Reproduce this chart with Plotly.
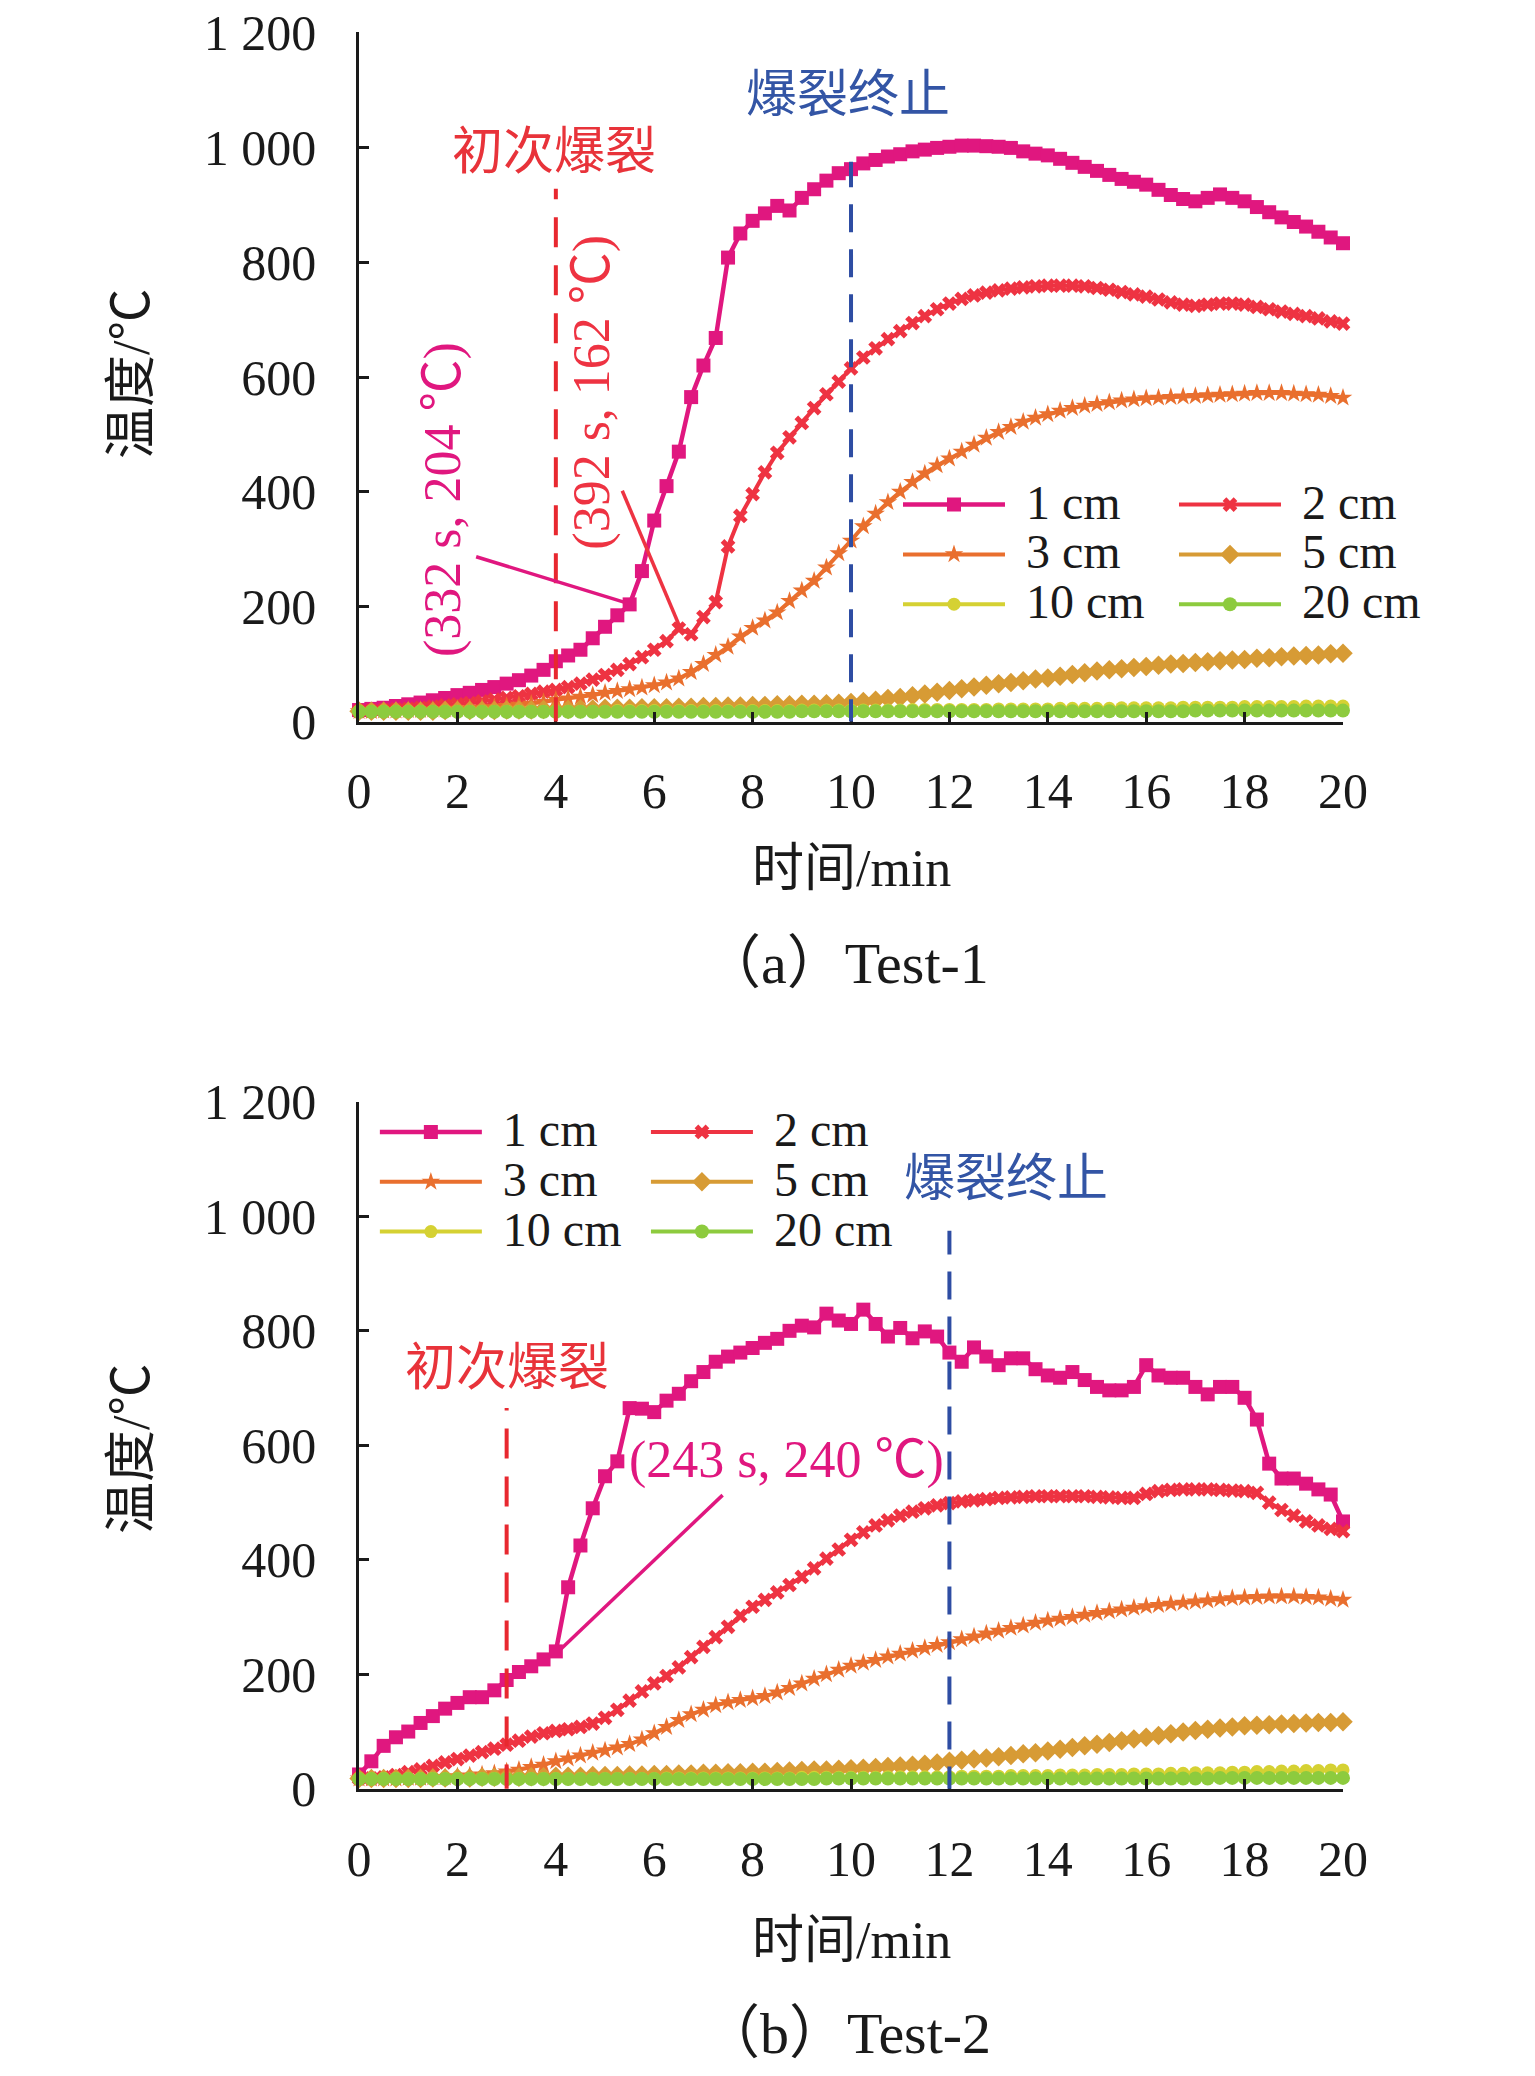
import plotly.graph_objects as go

# sampling grid: one reading every 15 s, in minutes
minutes = [i / 4 for i in range(81)]

series_names = ['1 cm', '2 cm', '3 cm', '5 cm', '10 cm', '20 cm']

# Test-1 temperatures (deg C)
a_1cm = [20, 22, 24, 27, 30, 33, 37, 41, 46, 50, 55, 60, 66, 72, 80, 90, 105,
         115, 125, 145, 165, 185, 204, 262, 350, 410, 470, 565, 620, 668, 808, 850, 872,
         885, 898, 890, 912, 927, 942, 955, 962, 972, 978, 984, 988, 993, 996, 999, 1001,
         1003, 1003, 1002, 1001, 999, 993, 989, 986, 980, 973, 966, 959, 952, 945, 940, 935,
         926, 917, 910, 906, 912, 918, 912, 906, 896, 887, 878, 870, 862, 853, 843, 833]
a_2cm = [18, 19, 20, 21, 22, 24, 26, 28, 30, 32, 35, 38, 41, 44, 48, 52, 55,
         60, 66, 73, 81, 90, 100, 112, 125, 140, 162, 152, 182, 208, 305, 358, 396,
         434, 468, 495, 520, 546, 570, 592, 615, 634, 650, 666, 680, 694, 706, 718, 728,
         736, 742, 747, 751, 754, 756, 758, 759, 759, 759, 758, 755, 752, 748, 744, 740,
         735, 730, 726, 724, 726, 728, 728, 726, 722, 718, 714, 710, 706, 702, 697, 693]
a_3cm = [18, 18, 19, 19, 20, 20, 21, 21, 22, 23, 24, 25, 27, 29, 31, 34, 38,
         40, 43, 46, 50, 53, 56, 59, 63, 68, 75, 86, 100, 116, 130, 148, 163,
         176, 190, 210, 228, 245, 268, 293, 315, 340, 362, 382, 400, 417, 432, 446, 458,
         470, 482, 494, 504, 513, 522, 529, 535, 541, 546, 550, 553, 556, 559, 561, 563,
         564, 565, 566, 567, 568, 569, 570, 571, 572, 572, 572, 571, 570, 569, 567, 564]
a_5cm = [18, 18, 18, 18, 18, 18, 18, 19, 19, 19, 19, 19, 20, 20, 20, 21, 21,
         21, 22, 22, 23, 23, 23, 24, 24, 24, 25, 25, 26, 26, 27, 27, 28,
         28, 29, 29, 30, 30, 31, 32, 33, 35, 37, 40, 42, 45, 48, 51, 54,
         57, 60, 63, 66, 68, 71, 74, 76, 79, 82, 85, 88, 90, 92, 94, 96,
         98, 100, 101, 103, 104, 106, 107, 108, 110, 111, 113, 114, 115, 116, 118, 119]
a_10cm = [18, 18, 18, 18, 18, 18, 18, 18, 18, 18, 18, 18, 18, 18, 18, 18, 18,
          18, 18, 18, 18, 19, 19, 19, 19, 19, 19, 19, 19, 19, 19, 19, 19,
          19, 19, 19, 20, 20, 20, 20, 20, 20, 20, 20, 20, 21, 21, 21, 21,
          21, 21, 21, 22, 22, 22, 22, 22, 23, 23, 23, 23, 23, 24, 24, 24,
          24, 24, 25, 25, 25, 25, 25, 26, 26, 26, 26, 26, 27, 27, 27, 27]
a_20cm = [17, 17, 17, 17, 17, 17, 17, 17, 17, 17, 17, 17, 17, 17, 17, 17, 17,
          17, 17, 17, 17, 17, 17, 17, 17, 17, 17, 17, 17, 17, 17, 17, 17,
          17, 17, 17, 18, 18, 18, 18, 18, 18, 18, 18, 18, 18, 18, 18, 18,
          18, 18, 18, 18, 18, 18, 18, 18, 18, 18, 18, 18, 18, 18, 18, 18,
          18, 18, 18, 19, 19, 19, 19, 19, 19, 19, 19, 19, 19, 19, 19, 19]

# Test-2 temperatures (deg C)
b_1cm = [25, 48, 75, 90, 100, 115, 127, 140, 150, 160, 160, 172, 190, 204, 214, 226, 240,
         352, 425, 490, 546, 572, 665, 664, 658, 678, 690, 712, 728, 746, 755, 762, 770,
         779, 786, 800, 809, 806, 830, 818, 812, 837, 812, 790, 805, 787, 799, 790, 762,
         746, 771, 755, 740, 752, 752, 733, 722, 718, 728, 714, 702, 696, 696, 702, 740,
         722, 718, 718, 702, 689, 702, 702, 683, 645, 568, 542, 542, 533, 523, 514, 467]
b_2cm = [18, 18, 20, 24, 29, 34, 40, 46, 52, 58, 64, 70, 77, 84, 91, 97, 101,
         104, 108, 114, 124, 138, 154, 170, 184, 197, 212, 230, 248, 265, 283, 302, 318,
         330, 343, 356, 370, 385, 402, 418, 435, 448, 460, 469, 477, 484, 490, 495, 499,
         502, 504, 506, 508, 509, 510, 511, 511, 511, 511, 511, 510, 509, 508, 508, 515,
         520, 522, 523, 523, 523, 522, 521, 520, 517, 500, 487, 477, 467, 460, 454, 450]
b_3cm = [18, 18, 18, 18, 19, 19, 20, 20, 22, 23, 25, 27, 30, 33, 38, 42, 48,
         53, 58, 63, 67, 72, 78, 86, 97, 108, 120, 130, 138, 146, 151, 155, 158,
         162, 168, 176, 184, 192, 200, 208, 215, 220, 225, 231, 236, 241, 246, 251, 256,
         261, 266, 271, 276, 281, 285, 290, 294, 297, 300, 304, 307, 310, 313, 316, 319,
         321, 323, 325, 327, 329, 331, 333, 334, 335, 336, 336, 336, 335, 334, 332, 330]
b_5cm = [18, 18, 18, 18, 18, 18, 19, 19, 19, 19, 20, 20, 20, 20, 21, 21, 22,
         22, 22, 23, 23, 23, 24, 24, 25, 25, 26, 26, 27, 27, 28, 28, 29,
         29, 30, 31, 32, 33, 33, 34, 35, 36, 37, 39, 40, 41, 43, 45, 48,
         50, 52, 54, 56, 58, 61, 63, 66, 69, 72, 75, 78, 81, 84, 87, 90,
         93, 96, 99, 102, 104, 106, 108, 110, 111, 112, 113, 114, 115, 116, 116, 117]
b_10cm = [18, 18, 18, 18, 18, 18, 18, 18, 18, 18, 18, 18, 18, 18, 18, 18, 18,
          18, 18, 18, 18, 18, 18, 18, 18, 19, 19, 19, 19, 19, 19, 19, 19,
          19, 19, 19, 20, 20, 20, 20, 20, 20, 20, 21, 21, 21, 21, 21, 21,
          22, 22, 22, 22, 23, 23, 23, 23, 24, 24, 24, 25, 25, 25, 26, 26,
          26, 27, 27, 28, 28, 28, 29, 29, 30, 30, 31, 31, 32, 32, 33, 33]
b_20cm = [17, 17, 17, 17, 17, 17, 17, 17, 17, 17, 17, 17, 17, 17, 17, 17, 17,
          17, 17, 17, 17, 17, 17, 17, 17, 17, 17, 17, 17, 17, 17, 17, 17,
          17, 17, 17, 17, 17, 18, 18, 18, 18, 18, 18, 18, 18, 18, 18, 18,
          18, 18, 18, 18, 18, 18, 18, 18, 18, 18, 18, 18, 18, 18, 18, 18,
          18, 18, 18, 18, 18, 19, 19, 19, 19, 19, 19, 19, 19, 19, 19, 19]

# burst markers: [Test-1, Test-2] in minutes
burst_start = [4, 3]
burst_end = [10, 12]
# annotated points (s, deg C)
a_pink_pt = [332, 204]
a_red_pt = [392, 162]
b_pink_pt = [243, 240]

y_ticks = [0, 200, 400, 600, 800, 1000, 1200]
y_ticktext = ['0', '200', '400', '600', '800', '1 000', '1 200']
x_ticks = [0, 2, 4, 6, 8, 10, 12, 14, 16, 18, 20]

colors = ['#E0177F', '#EE3342', '#E96F2E', '#D79B35', '#D5D133', '#8DCB3E']
symbols = ['square', 'x', 'star', 'diamond', 'circle', 'circle']
msizes = [14, 13, 14, 15, 13, 14]
lwidths = [4.5, 4, 4, 4, 4, 4]

SERIF = 'Liberation Serif, Times New Roman, Noto Sans CJK SC'
CJK = 'Noto Sans CJK SC'

fig = go.Figure()


def add_panel(series, xa, ya, legs):
  for k, vals in enumerate(series):
    # bigger label than the legend row height allows, plus a small gap after the line
    label = '<span style="font-size:48px">\u2004%s</span>' % series_names[k]
    fig.add_trace(go.Scatter(
        x=minutes, y=vals, name=label, mode='lines+markers',
        xaxis=xa, yaxis=ya, legend=legs[k % 2], cliponaxis=False,
        line=dict(color=colors[k], width=lwidths[k]),
        marker=dict(symbol=symbols[k], size=msizes[k], color=colors[k], line=dict(width=0))))


add_panel([a_1cm, a_2cm, a_3cm, a_5cm, a_10cm, a_20cm], 'x', 'y', ['legend', 'legend2'])
add_panel([b_1cm, b_2cm, b_3cm, b_5cm, b_10cm, b_20cm], 'x2', 'y2', ['legend3', 'legend4'])

axis_common = dict(showline=True, linecolor='#1a1a1a', linewidth=2.5, ticks='inside',
                   ticklen=10, tickwidth=2.5, tickcolor='#1a1a1a', showgrid=False,
                   zeroline=False, ticklabeloverflow='allow',
                   tickfont=dict(family=SERIF, size=50, color='#1a1a1a'))
xdom = [0.2287, 0.8697]
fig.update_layout(
    xaxis=dict(domain=xdom, range=[0, 20], tickvals=x_ticks, anchor='y',
               ticklabelstandoff=24, **axis_common),
    yaxis=dict(domain=[0.6563, 0.9882], range=[0, 1200], tickvals=y_ticks,
               ticktext=y_ticktext, anchor='x', ticklabelstandoff=30, **axis_common),
    xaxis2=dict(domain=xdom, range=[0, 20], tickvals=x_ticks, anchor='y2',
                ticklabelstandoff=24, **axis_common),
    yaxis2=dict(domain=[0.1422, 0.4731], range=[0, 1200], tickvals=y_ticks,
                ticktext=y_ticktext, anchor='x2', ticklabelstandoff=30, **axis_common),
)

leg_common = dict(orientation='v', xanchor='left', yanchor='top', bgcolor='rgba(0,0,0,0)',
                  itemwidth=102, tracegroupgap=0,
                  font=dict(family=SERIF, size=36, color='#1a1a1a'))
fig.update_layout(
    legend=dict(x=0.5798, y=0.7752, **leg_common),
    legend2=dict(x=0.7596, y=0.7752, **leg_common),
    legend3=dict(x=0.2390, y=0.4730, **leg_common),
    legend4=dict(x=0.4156, y=0.4730, **leg_common),
)

# dashed burst lines
shapes = []
for xa, ya, i, top_s, top_e in [('x', 'y', 0, 928, 975), ('x2', 'y2', 1, 665, 975)]:
  shapes.append(dict(type='line', xref=xa, yref=ya, x0=burst_start[i], x1=burst_start[i],
                     y0=-10, y1=top_s, line=dict(color='#E8282F', width=4, dash='30px,18px')))
  shapes.append(dict(type='line', xref=xa, yref=ya, x0=burst_end[i], x1=burst_end[i],
                     y0=-10, y1=top_e, line=dict(color='#2E4DA3', width=4, dash='28px,17px')))

# leader lines to the annotated points
shapes.append(dict(type='line', xref='x', yref='y', x0=2.38, y0=287,
                   x1=a_pink_pt[0] / 60, y1=a_pink_pt[1], line=dict(color=colors[0], width=3.5)))
shapes.append(dict(type='line', xref='x', yref='y', x0=5.35, y0=402,
                   x1=a_red_pt[0] / 60, y1=a_red_pt[1], line=dict(color=colors[1], width=3.5)))
shapes.append(dict(type='line', xref='x2', yref='y2', x0=7.39, y0=513,
                   x1=b_pink_pt[0] / 60, y1=b_pink_pt[1], line=dict(color=colors[0], width=3.5)))
fig.update_layout(shapes=shapes)

annos = [
    dict(xref='x', yref='y', x=3.96, y=1000, text='初次爆裂',
         font=dict(family=CJK, size=51, color='#E8333A')),
    dict(xref='x', yref='y', x=9.94, y=1100, text='爆裂终止',
         font=dict(family=CJK, size=51, color='#3355A5')),
    dict(xref='x', yref='y', x=1.71, y=386, textangle=-90,
         text='(%d s, %d ℃)' % (a_pink_pt[0], a_pink_pt[1]),
         font=dict(family=SERIF, size=52, color=colors[0])),
    dict(xref='x', yref='y', x=4.73, y=574, textangle=-90,
         text='(%d s, %d ℃)' % (a_red_pt[0], a_red_pt[1]),
         font=dict(family=SERIF, size=52, color=colors[1])),
    dict(xref='x2', yref='y2', x=3.0, y=744, text='初次爆裂',
         font=dict(family=CJK, size=51, color='#E8333A')),
    dict(xref='x2', yref='y2', x=13.15, y=1074, text='爆裂终止',
         font=dict(family=CJK, size=51, color='#3355A5')),
    dict(xref='x2', yref='y2', x=8.68, y=575,
         text='(%d s, %d ℃)' % (b_pink_pt[0], b_pink_pt[1]),
         font=dict(family=SERIF, size=52, color=colors[0])),
    # axis titles and captions
    dict(xref='paper', yref='paper', x=0.0808, y=0.8237, text='温度/℃', textangle=-90,
         font=dict(family=SERIF, size=52, color='#1a1a1a')),
    dict(xref='paper', yref='paper', x=0.0808, y=0.3059, text='温度/℃', textangle=-90,
         font=dict(family=SERIF, size=52, color='#1a1a1a')),
    dict(xref='paper', yref='paper', x=0.5492, y=0.5853, text='时间/min',
         font=dict(family=SERIF, size=52, color='#1a1a1a')),
    dict(xref='paper', yref='paper', x=0.5492, y=0.0689, text='时间/min',
         font=dict(family=SERIF, size=52, color='#1a1a1a')),
    dict(xref='paper', yref='paper', x=0.546, y=0.5399, text='（a）Test-1',
         font=dict(family=SERIF, size=58, color='#1a1a1a')),
    dict(xref='paper', yref='paper', x=0.546, y=0.0241, text='（b）Test-2',
         font=dict(family=SERIF, size=58, color='#1a1a1a')),
]
for a in annos:
  a.update(showarrow=False, xanchor='center', yanchor='middle')
fig.update_layout(annotations=annos)

fig.update_layout(width=1535, height=2076,
                  margin=dict(l=0, r=0, t=0, b=0, autoexpand=False),
                  plot_bgcolor='white', paper_bgcolor='white')

fig.write_html('out.html')
